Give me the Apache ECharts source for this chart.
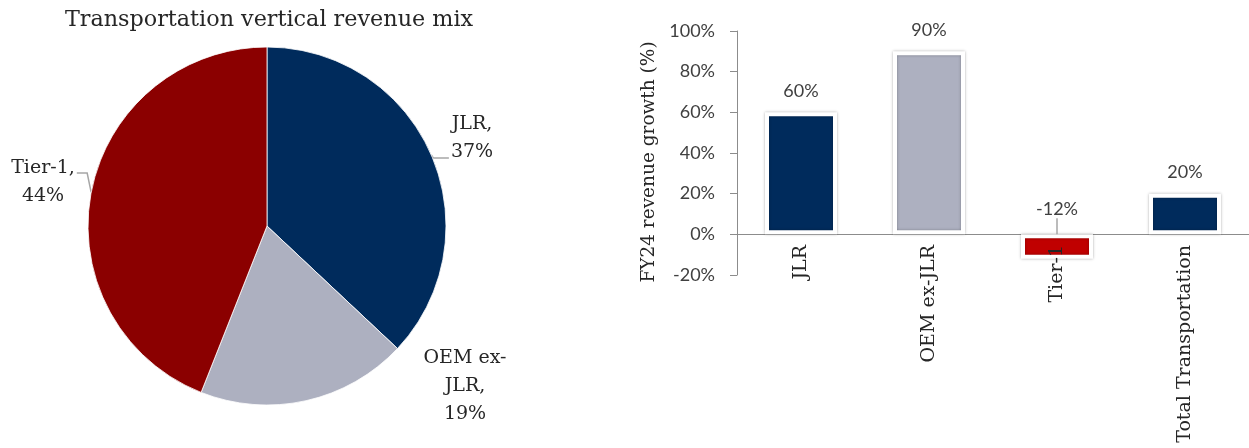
<!DOCTYPE html>
<html><head><meta charset="utf-8">
<script src="https://cdn.jsdelivr.net/npm/echarts@6/dist/echarts.min.js"></script>
<style>html,body{margin:0;padding:0;background:#fff;}#c{width:1249px;height:448px;}</style>
</head><body><div id="c"></div>
<script>
const pieTitle = 'Transportation vertical revenue mix';
const pieNames = ['JLR', 'OEM ex-JLR', 'Tier-1'];
const pieLabelNames = ['JLR,', 'OEM ex-\nJLR,', 'Tier-1,'];
const pieValues = [37, 19, 44];
const pieColors = ['#002B5C', '#ADB0C0', '#8B0000'];

const barCategories = ['JLR', 'OEM ex-JLR', 'Tier-1', 'Total Transportation'];
const barValues = [60, 90, -12, 20];
const barColors = ['#002B5C', '#ADB0C0', '#C00000', '#002B5C'];
const yAxisName = 'FY24 revenue growth (%)';
const yMin = -20, yMax = 100, yStep = 20;

const SERIF = 'DejaVu Serif';
const SANS = 'Lato';

// label placement (text boxes only)
const pieLabelPos = [
  {x: 472, y: 138, side: 'right'},
  {x: 465, y: 386, side: 'none'},
  {x: 43, y: 182, side: 'left'}
];

const barLabelStyle = {
  show: true, position: 'top', distance: 12,
  formatter: p => p.value + '%',
  fontFamily: SANS, fontSize: 18, color: '#404040'
};

const chart = echarts.init(document.getElementById('c'));
chart.setOption({
  animation: false,
  backgroundColor: '#fff',
  title: {
    text: pieTitle, left: 264, top: 4, textAlign: 'center',
    textStyle: {fontFamily: SERIF, fontSize: 22.3, fontWeight: 'normal', color: '#262626'}
  },
  grid: {left: 737, right: 0, top: 31, bottom: 173, containLabel: false, outerBoundsMode: 'none'},
  xAxis: [
    {
      type: 'category', data: barCategories, position: 'bottom',
      axisLine: {onZero: true, lineStyle: {color: '#8c8c8c', width: 1}},
      axisTick: {show: false},
      axisLabel: {show: false}
    },
    {
      type: 'category', data: barCategories, position: 'bottom', z: 5,
      axisLine: {show: false, onZero: false},
      axisTick: {show: false},
      axisLabel: {rotate: 90, margin: -30, fontFamily: SERIF, fontSize: 19, color: '#262626', interval: 0}
    }
  ],
  yAxis: {
    type: 'value', min: yMin, max: yMax, interval: yStep,
    name: yAxisName, nameLocation: 'middle', nameGap: 78,
    nameTextStyle: {fontFamily: SERIF, fontSize: 18.5, color: '#262626', padding: [0, 18, 0, 0]},
    axisLine: {show: true, lineStyle: {color: '#8c8c8c', width: 1}},
    axisTick: {show: true, length: 7, lineStyle: {color: '#8c8c8c'}},
    splitLine: {show: false},
    axisLabel: {margin: 22, formatter: v => v + '%', fontFamily: SANS, fontSize: 18, color: '#404040'}
  },
  series: [
    {
      type: 'pie',
      center: [267, 226], radius: 179,
      startAngle: 90, clockwise: true,
      data: pieNames.map((n, i) => ({
        name: n, value: pieValues[i],
        itemStyle: {color: pieColors[i]},
        labelLine: {show: pieLabelPos[i].side !== 'none'}
      })),
      itemStyle: {borderColor: '#ffffff', borderWidth: 0.8},
      label: {
        show: true, position: 'outside', overflow: 'none', edgeDistance: 0,
        formatter: p => pieLabelNames[p.dataIndex] + '\n' + p.value + '%',
        fontFamily: SERIF, fontSize: 19, lineHeight: 28, color: '#262626', align: 'center'
      },
      labelLine: {show: true, length: 10, length2: 10, lineStyle: {color: '#a6a6a6', width: 1.5}},
      labelLayout: function (p) {
        const pos = pieLabelPos[p.dataIndex];
        const out = {x: pos.x, y: pos.y, align: 'center', verticalAlign: 'middle'};
        const pts = p.labelLinePoints;
        if (pts && pos.side !== 'none') {
          const a = pts[0];
          const w = p.labelRect.width;
          if (pos.side === 'right') {
            const ly = a[1] + 3;
            out.labelLinePoints = [a, [a[0] + 2, ly], [pos.x - w / 2 - 2, ly]];
          } else {
            const ly = pos.y - 9;
            out.labelLinePoints = [a, [a[0] - 4, ly], [pos.x + w / 2 + 2, ly]];
          }
        }
        return out;
      }
    },
    {
      type: 'bar',
      xAxisIndex: 0,
      barWidth: 72,
      barGap: '-100%',
      data: barValues.map((v, i) => ({
        value: v, itemStyle: {color: barColors[i]},
        label: {show: v >= 0}
      })),
      itemStyle: {borderColor: '#ffffff', borderWidth: 4, shadowBlur: 3, shadowColor: 'rgba(0,0,0,0.3)'},
      label: barLabelStyle
    },
    {
      // transparent overlay carrying the negative-value label and its leader line on top
      type: 'bar',
      xAxisIndex: 0,
      z: 4,
      silent: true,
      barWidth: 72,
      barGap: '-100%',
      data: barValues.map((v) => ({
        value: v,
        label: {show: v < 0},
        labelLine: {show: v < 0, lineStyle: {color: '#a6a6a6', width: 1.5}}
      })),
      itemStyle: {color: 'rgba(0,0,0,0)', borderWidth: 0},
      label: barLabelStyle,
      labelLayout: function (p) {
        if (barValues[p.dataIndex] >= 0) return {};
        const lr = p.labelRect, r = p.rect;
        const cx = lr.x + lr.width / 2;
        const by = lr.y + lr.height - 4;
        const top = by + 2;
        const bottom = r.y + r.height - 2;
        return {
          x: cx, y: by, align: 'center', verticalAlign: 'bottom',
          labelLinePoints: [[cx - 1, top], [cx, (top + bottom) / 2], [cx + 1, bottom]]
        };
      }
    }
  ]
});
</script>
</body></html>
